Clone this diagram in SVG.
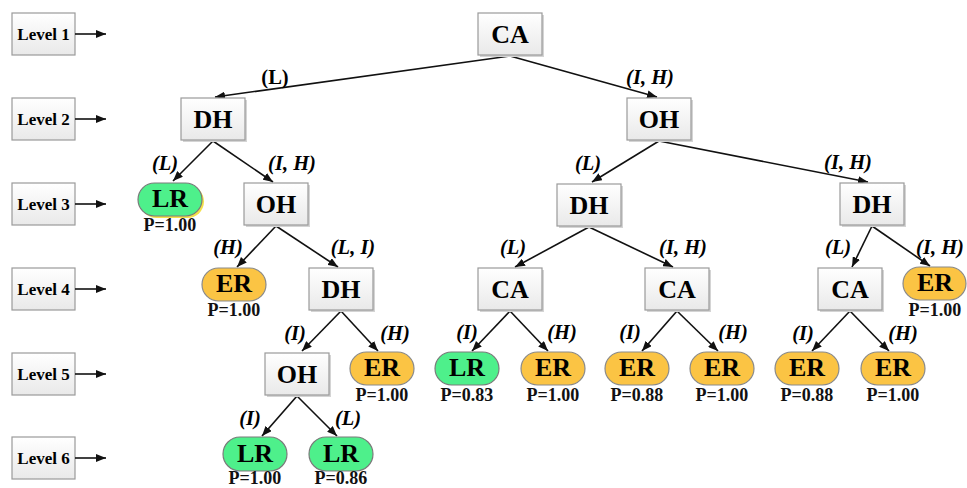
<svg xmlns="http://www.w3.org/2000/svg" width="967" height="488" viewBox="0 0 967 488">
  <defs>
    <linearGradient id="boxFill" x1="0" y1="0" x2="0" y2="1">
      <stop offset="0" stop-color="#ffffff"/>
      <stop offset="1" stop-color="#e9e9e9"/>
    </linearGradient>
    <marker id="arrow" viewBox="0 0 10 8" refX="10" refY="4" markerWidth="10" markerHeight="8" markerUnits="userSpaceOnUse" orient="auto">
      <path d="M0,0 L10,4 L0,8 z" fill="#111"/>
    </marker>
    <style>
      .box { fill: url(#boxFill); stroke: #9a9a9a; stroke-width: 1.2; }
      .shadow { fill: #d4d4d4; }
      .lr { fill: #4ef08b; stroke: #7a7a7a; stroke-width: 1.2; }
      .er { fill: #fbc444; stroke: #8a8a8a; stroke-width: 1.2; }
      .node { font-family: "Liberation Serif", "Times New Roman", serif; font-weight: bold; font-size: 26px; text-anchor: middle; fill: #000; }
      .lvl { font-family: "Liberation Serif", "Times New Roman", serif; font-weight: bold; font-size: 17px; text-anchor: middle; fill: #000; }
      .prob { font-family: "Liberation Serif", "Times New Roman", serif; font-weight: bold; font-size: 18px; text-anchor: middle; fill: #111; }
      .elab { font-family: "Liberation Serif", "Times New Roman", serif; font-weight: bold; font-style: italic; font-size: 20.5px; text-anchor: middle; fill: #000; }
      .elab-up { font-family: "Liberation Serif", "Times New Roman", serif; font-weight: bold; font-size: 20.5px; text-anchor: middle; fill: #000; }
      .edge { stroke: #111; stroke-width: 1.6; fill: none; marker-end: url(#arrow); }
    </style>
  </defs>

  <rect width="967" height="488" fill="#ffffff"/>

  <!-- level legend -->
  <g id="levels">
    <g id="level1"><rect class="box" x="12" y="13" width="63" height="42"/><text class="lvl" x="43.5" y="40">Level 1</text><line class="edge" x1="75" y1="34" x2="106" y2="34"/></g>
    <g id="level2"><rect class="box" x="12" y="98" width="63" height="42"/><text class="lvl" x="43.5" y="125">Level 2</text><line class="edge" x1="75" y1="119" x2="106" y2="119"/></g>
    <g id="level3"><rect class="box" x="12" y="183" width="63" height="42"/><text class="lvl" x="43.5" y="210">Level 3</text><line class="edge" x1="75" y1="204" x2="106" y2="204"/></g>
    <g id="level4"><rect class="box" x="12" y="268" width="63" height="42"/><text class="lvl" x="43.5" y="295">Level 4</text><line class="edge" x1="75" y1="289" x2="106" y2="289"/></g>
    <g id="level5"><rect class="box" x="12" y="353" width="63" height="42"/><text class="lvl" x="43.5" y="380">Level 5</text><line class="edge" x1="75" y1="374" x2="106" y2="374"/></g>
    <g id="level6"><rect class="box" x="12" y="437" width="63" height="42"/><text class="lvl" x="43.5" y="464">Level 6</text><line class="edge" x1="75" y1="458" x2="106" y2="458"/></g>
  </g>

  <!-- connectors -->
  <g id="connectors">
    <line class="edge" x1="510" y1="56" x2="215" y2="97"/>
    <line class="edge" x1="510" y1="56" x2="657" y2="97"/>
    <line class="edge" x1="213" y1="141" x2="173" y2="181"/>
    <line class="edge" x1="213" y1="141" x2="273" y2="182"/>
    <line class="edge" x1="659" y1="141" x2="592" y2="182"/>
    <line class="edge" x1="659" y1="141" x2="868" y2="182"/>
    <line class="edge" x1="276" y1="226" x2="237" y2="267"/>
    <line class="edge" x1="276" y1="226" x2="338" y2="267"/>
    <line class="edge" x1="589" y1="227" x2="515" y2="267"/>
    <line class="edge" x1="589" y1="227" x2="673" y2="267"/>
    <line class="edge" x1="872" y1="226" x2="852" y2="267"/>
    <line class="edge" x1="872" y1="226" x2="930" y2="266"/>
    <line class="edge" x1="341" y1="311" x2="302" y2="351"/>
    <line class="edge" x1="341" y1="311" x2="378" y2="351"/>
    <line class="edge" x1="510" y1="311" x2="472" y2="351"/>
    <line class="edge" x1="510" y1="311" x2="548" y2="351"/>
    <line class="edge" x1="677" y1="311" x2="642" y2="351"/>
    <line class="edge" x1="677" y1="311" x2="718" y2="351"/>
    <line class="edge" x1="850" y1="311" x2="812" y2="351"/>
    <line class="edge" x1="850" y1="311" x2="889" y2="351"/>
    <line class="edge" x1="297" y1="396" x2="262" y2="436"/>
    <line class="edge" x1="297" y1="396" x2="337" y2="436"/>

    <text class="elab-up" x="275" y="84">(L)</text>
    <text class="elab" x="650" y="84">(I, H)</text>
    <text class="elab" x="165" y="170">(L)</text>
    <text class="elab" x="292" y="170">(I, H)</text>
    <text class="elab" x="588" y="170">(L)</text>
    <text class="elab" x="848" y="169">(I, H)</text>
    <text class="elab" x="228" y="254">(H)</text>
    <text class="elab" x="353" y="254">(L, I)</text>
    <text class="elab" x="513" y="254">(L)</text>
    <text class="elab" x="683" y="254">(I, H)</text>
    <text class="elab" x="838" y="254">(L)</text>
    <text class="elab" x="940" y="254">(I, H)</text>
    <text class="elab" x="295" y="340">(I)</text>
    <text class="elab" x="395" y="340">(H)</text>
    <text class="elab" x="467" y="339">(I)</text>
    <text class="elab" x="562" y="339">(H)</text>
    <text class="elab" x="630" y="339">(I)</text>
    <text class="elab" x="733" y="339">(H)</text>
    <text class="elab" x="803" y="340">(I)</text>
    <text class="elab" x="903" y="340">(H)</text>
    <text class="elab" x="250" y="425">(I)</text>
    <text class="elab" x="348" y="425">(L)</text>
  </g>

  <!-- level 1 -->
  <g id="n-ca-root"><rect class="shadow" x="480" y="15" width="64" height="42"/><rect class="box" x="478" y="13" width="64" height="42"/><text class="node" x="510" y="43">CA</text></g>

  <!-- level 2 -->
  <g id="n-dh-2"><rect class="shadow" x="183" y="100" width="64" height="42"/><rect class="box" x="181" y="98" width="64" height="42"/><text class="node" x="213" y="128">DH</text></g>
  <g id="n-oh-2"><rect class="shadow" x="629" y="100" width="64" height="42"/><rect class="box" x="627" y="98" width="64" height="42"/><text class="node" x="659" y="128">OH</text></g>

  <!-- level 3 -->
  <g id="n-lr-3"><rect x="140" y="185" width="64" height="33" rx="16.5" fill="#f4e04a"/><rect class="lr" x="138" y="183" width="64" height="33" rx="16.5"/><text class="node" x="170" y="207">LR</text><text class="prob" x="170" y="231">P=1.00</text></g>
  <g id="n-oh-3"><rect class="shadow" x="246" y="185" width="64" height="42"/><rect class="box" x="244" y="183" width="64" height="42"/><text class="node" x="276" y="213">OH</text></g>
  <g id="n-dh-3a"><rect class="shadow" x="559" y="186" width="64" height="42"/><rect class="box" x="557" y="184" width="64" height="42"/><text class="node" x="589" y="214">DH</text></g>
  <g id="n-dh-3b"><rect class="shadow" x="842" y="185" width="64" height="42"/><rect class="box" x="840" y="183" width="64" height="42"/><text class="node" x="872" y="213">DH</text></g>

  <!-- level 4 -->
  <g id="n-er-4a"><rect class="er" x="202" y="268" width="64" height="33" rx="16.5"/><text class="node" x="234" y="292">ER</text><text class="prob" x="234" y="316">P=1.00</text></g>
  <g id="n-dh-4"><rect class="shadow" x="311" y="270" width="64" height="42"/><rect class="box" x="309" y="268" width="64" height="42"/><text class="node" x="341" y="298">DH</text></g>
  <g id="n-ca-4a"><rect class="shadow" x="480" y="270" width="64" height="42"/><rect class="box" x="478" y="268" width="64" height="42"/><text class="node" x="510" y="298">CA</text></g>
  <g id="n-ca-4b"><rect class="shadow" x="647" y="270" width="64" height="42"/><rect class="box" x="645" y="268" width="64" height="42"/><text class="node" x="677" y="298">CA</text></g>
  <g id="n-ca-4c"><rect class="shadow" x="820" y="270" width="64" height="42"/><rect class="box" x="818" y="268" width="64" height="42"/><text class="node" x="850" y="298">CA</text></g>
  <g id="n-er-4b"><rect class="er" x="903" y="267" width="63" height="33" rx="16.5"/><text class="node" x="935" y="291">ER</text><text class="prob" x="935" y="316">P=1.00</text></g>

  <!-- level 5 -->
  <g id="n-oh-5"><rect class="shadow" x="267" y="355" width="64" height="42"/><rect class="box" x="265" y="353" width="64" height="42"/><text class="node" x="297" y="383">OH</text></g>
  <g id="n-er-5a"><rect class="er" x="350" y="352" width="64" height="33" rx="16.5"/><text class="node" x="382" y="376">ER</text><text class="prob" x="382" y="401">P=1.00</text></g>
  <g id="n-lr-5"><rect class="lr" x="435" y="352" width="64" height="33" rx="16.5"/><text class="node" x="467" y="376">LR</text><text class="prob" x="467" y="401">P=0.83</text></g>
  <g id="n-er-5b"><rect class="er" x="521" y="352" width="64" height="33" rx="16.5"/><text class="node" x="553" y="376">ER</text><text class="prob" x="553" y="401">P=1.00</text></g>
  <g id="n-er-5c"><rect class="er" x="605" y="352" width="64" height="33" rx="16.5"/><text class="node" x="637" y="376">ER</text><text class="prob" x="637" y="401">P=0.88</text></g>
  <g id="n-er-5d"><rect class="er" x="690" y="352" width="64" height="33" rx="16.5"/><text class="node" x="722" y="376">ER</text><text class="prob" x="722" y="401">P=1.00</text></g>
  <g id="n-er-5e"><rect class="er" x="775" y="352" width="64" height="33" rx="16.5"/><text class="node" x="807" y="376">ER</text><text class="prob" x="807" y="401">P=0.88</text></g>
  <g id="n-er-5f"><rect class="er" x="861" y="352" width="64" height="33" rx="16.5"/><text class="node" x="893" y="376">ER</text><text class="prob" x="893" y="401">P=1.00</text></g>

  <!-- level 6 -->
  <g id="n-lr-6a"><rect class="lr" x="223" y="437" width="64" height="34" rx="17"/><text class="node" x="255" y="462">LR</text><text class="prob" x="255" y="484">P=1.00</text></g>
  <g id="n-lr-6b"><rect class="lr" x="309" y="437" width="64" height="34" rx="17"/><text class="node" x="341" y="462">LR</text><text class="prob" x="341" y="484">P=0.86</text></g>
</svg>
